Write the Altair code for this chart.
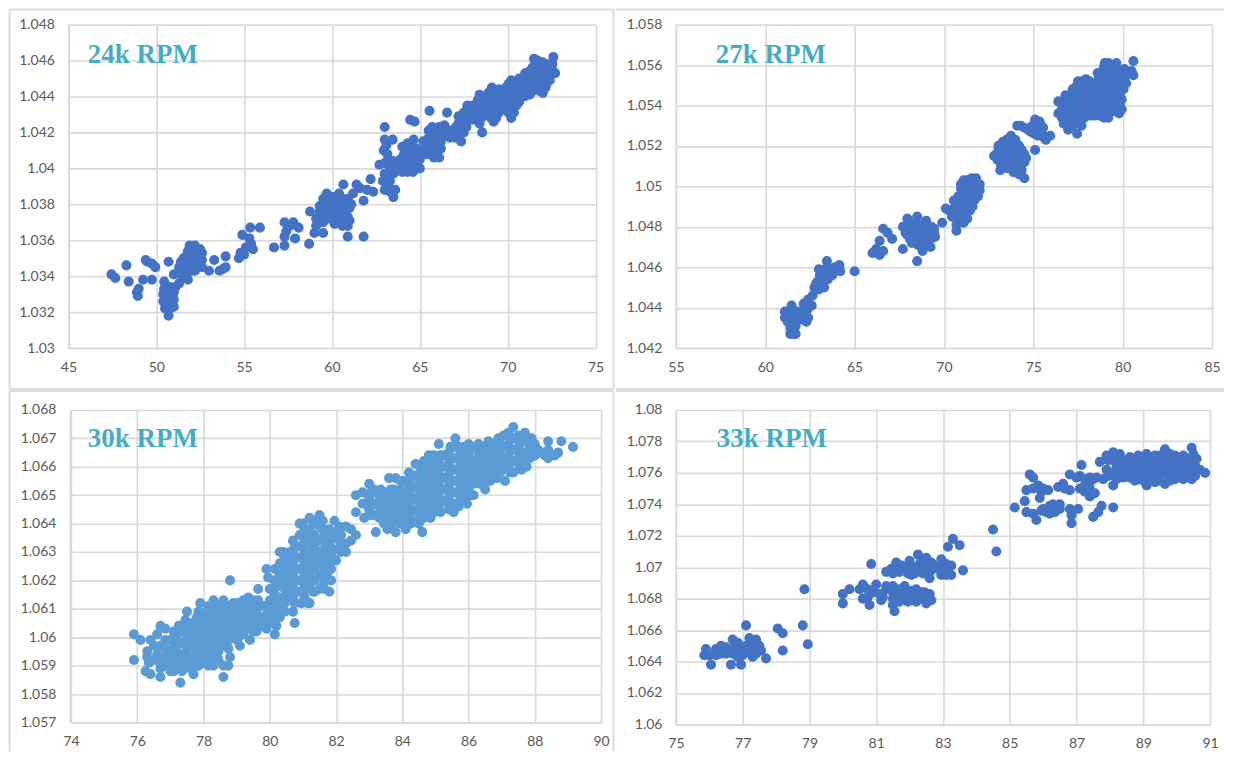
import altair as alt

pts_24 = [(47.45,1.0341),(47.67,1.0339),(48.3,1.0346),(48.43,1.0337),(48.9,1.0331),(48.95,1.0329),(49.0,1.0333),(49.25,1.0338),(49.4,1.0349),(49.5,1.0348),(49.75,1.0347),(49.95,1.0345),(49.75,1.0338),
(50.7,1.0318),(50.5,1.0322),(50.8,1.0322),(51.0,1.0323),(50.4,1.0326),(50.7,1.0326),(51.0,1.0327),(50.4,1.0330),(50.7,1.0330),(51.0,1.0331),(50.45,1.0333),(50.8,1.0334),(51.1,1.0334),(50.45,1.0337),(50.7,1.0348),
(51.3,1.0336),(51.5,1.0339),(51.0,1.0341),(51.4,1.0342),(51.8,1.0338),(51.7,1.0341),(51.3,1.0345),(51.6,1.0345),(52.0,1.0343),(52.2,1.0343),(51.4,1.0348),(51.7,1.0348),(52.0,1.0347),(52.3,1.0346),(52.6,1.0345),(51.7,1.0351),(52.0,1.0351),(52.3,1.0350),(52.6,1.0349),(51.8,1.0354),(52.1,1.0354),(52.4,1.0354),(52.6,1.0353),(51.9,1.0357),(52.2,1.0357),(52.5,1.0355),
(53.0,1.0343),(53.3,1.0349),(53.6,1.0343),(53.8,1.0344),(53.95,1.0345),(53.95,1.0351),
(54.7,1.0350),(54.8,1.0353),(55.0,1.0352),(55.1,1.0356),(55.4,1.0358),(55.5,1.0355),(54.9,1.0363),(55.3,1.0361),(55.35,1.0367),(55.9,1.0367),
(56.7,1.0356),(57.3,1.0357),(57.3,1.0362),(57.4,1.0365),(57.3,1.0370),(57.6,1.0368),(57.8,1.0370),(58.1,1.0367),(57.9,1.0361),(58.7,1.0358),(58.75,1.0376),(59.0,1.0364),(59.1,1.0372),(59.1,1.0368),(59.3,1.0376),(59.3,1.0379),(59.5,1.0383),(59.7,1.0386),(59.5,1.0364),(59.5,1.0370),(59.6,1.0373),(59.8,1.0376),(59.9,1.0380),(60.1,1.0375),(60.3,1.0370),(60.3,1.0377),(60.3,1.0383),(60.4,1.0386),(60.6,1.0368),(60.6,1.0373),(60.6,1.0378),(60.6,1.0383),(60.65,1.0391),(60.9,1.0362),(60.9,1.0368),(60.9,1.0373),(61.0,1.0378),(60.9,1.0383),(61.1,1.0380),(61.2,1.0386),(61.4,1.0391),(61.6,1.0389),(61.8,1.0382),(61.8,1.0362),(62.0,1.0388),(62.2,1.0394),(62.35,1.0387),
(62.7,1.0402),(62.9,1.0393),(63.0,1.0388),(63.2,1.0390),(63.5,1.0384),(63.6,1.0388),(63.3,1.0393),(63.0,1.0397),(63.3,1.0400),(63.0,1.0403),(63.2,1.0405),(62.95,1.0410),(63.0,1.0416),(63.45,1.0416),(63.0,1.0423),(63.5,1.0404),(63.8,1.0400),(64.0,1.0398),(64.3,1.0398),(64.6,1.0398),(64.0,1.0403),(64.3,1.0403),(64.6,1.0403),(65.0,1.0400),(64.1,1.0408),(64.4,1.0407),(64.7,1.0407),(65.0,1.0405),(64.0,1.0412),(64.5,1.0411),(64.8,1.0411),(64.65,1.0416),(64.45,1.0427),(64.7,1.0426),
(65.3,1.0411),(65.2,1.0415),(65.5,1.0408),(65.8,1.0406),(66.1,1.0406),(65.5,1.0413),(65.8,1.0411),(66.2,1.0411),(65.5,1.0417),(65.9,1.0416),(66.2,1.0415),(65.5,1.0421),(65.8,1.0421),(66.1,1.0420),(66.4,1.0419),(66.1,1.0423),(66.4,1.0424),(65.55,1.0432),(66.55,1.0431),(66.7,1.0417),
(67.0,1.0417),(67.35,1.0415),(67.2,1.0420),(67.5,1.0420),(67.2,1.0425),(67.5,1.0425),(67.2,1.0429),(67.8,1.0428),(67.5,1.0431),(67.7,1.0435),(68.1,1.0431),(68.0,1.0435),(68.4,1.0425),(68.55,1.0420),(68.5,1.0428),(68.8,1.0430),(68.3,1.0434),(68.6,1.0434),(68.9,1.0434),(68.3,1.0438),(68.6,1.0438),(68.9,1.0438),(68.4,1.0441),(68.9,1.0442),(69.1,1.0445),(69.2,1.0426),(69.2,1.0431),(69.5,1.0431),(69.3,1.0436),(69.6,1.0435),(69.3,1.0440),(69.6,1.0440),(69.9,1.0436),(69.9,1.0441),(69.5,1.0444),(69.9,1.0445),(70.2,1.0428),(70.2,1.0433),(70.2,1.0437),(70.2,1.0442),(70.2,1.0446),(70.2,1.0449),(70.5,1.0435),(70.5,1.0440),(70.5,1.0444),(70.5,1.0448),(70.8,1.0442),(70.8,1.0446),(70.8,1.0450),(71.0,1.0453),(71.1,1.0444),(71.1,1.0448),(71.1,1.0452),(71.4,1.0443),(71.4,1.0447),(71.4,1.0451),(71.4,1.0456),(71.5,1.0461),(71.7,1.0444),(71.7,1.0448),(71.7,1.0452),(71.7,1.0457),(71.7,1.0460),(72.0,1.0442),(72.0,1.0446),(72.0,1.0450),(72.0,1.0454),(72.0,1.0459),(72.2,1.0447),(72.3,1.0451),(72.3,1.0455),(72.2,1.0458),(72.6,1.0462),(72.55,1.0458),(72.7,1.0453),(72.5,1.0456),(72.4,1.0449)]
fill_24 = [(59.6,1.0378),(59.9,1.0372),(60.0,1.0384),(60.45,1.0380),(60.45,1.0372),(60.75,1.0376),(60.75,1.0370),(60.75,1.0381),(61.0,1.0371),(60.15,1.0369),
(63.15,1.0395),(63.3,1.0387),(63.15,1.0408),(63.1,1.0413),(63.5,1.0397),(63.7,1.0403),(63.9,1.0405),(64.15,1.0400),(64.45,1.0400),(64.8,1.0400),(64.2,1.0405),(64.55,1.0405),(64.85,1.0405),(64.2,1.0410),(64.3,1.0414),(64.6,1.0409),(65.0,1.0409),(65.35,1.0408),
(65.65,1.0410),(65.95,1.0409),(65.35,1.0413),(65.65,1.0415),(66.0,1.0413),(65.65,1.0419),(65.95,1.0419),(66.25,1.0418),(65.7,1.0423),(66.3,1.0422),(66.75,1.0421),(66.95,1.0421),(67.05,1.0423),(67.35,1.0423),(67.35,1.0428),(67.65,1.0423),(67.65,1.0427),(67.95,1.0427),(67.9,1.0432),(68.25,1.0428),(68.25,1.0431),(68.55,1.0431),(68.75,1.0436),(68.45,1.0436),(69.05,1.0428),(69.05,1.0432),(69.05,1.0436),(69.05,1.0440),(69.35,1.0428),(69.35,1.0433),(69.45,1.0438),(69.45,1.0442),(69.75,1.0438),(69.75,1.0443),(69.75,1.0433),(70.05,1.0431),(70.05,1.0435),(70.05,1.0439),(70.05,1.0443),(70.05,1.0447),(70.35,1.0431),(70.35,1.0435),(70.35,1.0439),(70.35,1.0443),(70.35,1.0447),(70.65,1.0437),(70.65,1.0442),(70.65,1.0446),(70.65,1.0450),(70.95,1.0440),(70.95,1.0444),(70.95,1.0448),(70.95,1.0451),(71.25,1.0441),(71.25,1.0445),(71.25,1.0449),(71.25,1.0454),(71.55,1.0445),(71.55,1.0449),(71.55,1.0454),(71.55,1.0458),(71.85,1.0443),(71.85,1.0447),(71.85,1.0451),(71.85,1.0455),(71.85,1.0459),(72.15,1.0445),(72.15,1.0449),(72.15,1.0453),(72.4,1.0453),(72.4,1.0457),
(51.55,1.0350),(51.85,1.0346),(52.15,1.0349),(52.45,1.0348),(50.6,1.0328),(50.85,1.0329),(50.85,1.0325)]

pts_27 = [(61.1,1.0438),(61.1,1.0435),(61.47,1.0441),(61.4,1.0437),(61.4,1.0433),(61.4,1.0430),(61.4,1.0427),(61.7,1.0427),(61.7,1.0431),(61.75,1.0435),(61.85,1.0438),(62.3,1.0433),(62.4,1.0435),(62.1,1.0438),(62.15,1.0442),(62.6,1.0441),(62.4,1.0444),(62.65,1.0446),(62.75,1.0450),(63.0,1.0449),(63.2,1.0452),(63.05,1.0456),(63.0,1.0459),(63.5,1.0454),(63.4,1.0457),(63.45,1.0463),(63.7,1.0459),(64.2,1.0458),(64.15,1.0461),(65.0,1.0458),
(66.0,1.0467),(66.2,1.0469),(66.4,1.0466),(66.6,1.0468),(66.4,1.0473),(66.6,1.0479),(66.85,1.0477),(67.1,1.0474),(67.7,1.0469),
(67.95,1.0484),(68.5,1.0485),(69.0,1.0483),(67.7,1.0480),(68.05,1.0480),(67.85,1.0477),(68.1,1.0474),(68.4,1.0480),(68.4,1.0477),(68.4,1.0473),(68.7,1.0479),(68.7,1.0474),(68.75,1.0470),(68.8,1.0468),(69.05,1.0480),(69.05,1.0476),(69.15,1.0472),(69.25,1.0470),(69.45,1.0479),(69.5,1.0475),(68.5,1.0463),
(69.9,1.0482),(70.1,1.0489),(70.45,1.0485),(70.7,1.0478),(70.7,1.0481),(70.55,1.0489),(70.8,1.0495),(70.8,1.0487),(71.1,1.0482),(71.2,1.0486),(71.0,1.0491),(71.1,1.0497),(71.1,1.0503),(71.45,1.0488),(71.45,1.0493),(71.55,1.0499),(71.55,1.0504),(71.9,1.0495),(72.0,1.0498),(72.0,1.0501),(71.8,1.0504),
(72.8,1.0515),(73.05,1.0520),(73.15,1.0508),(73.3,1.0522),(73.3,1.0516),(73.4,1.0511),(73.75,1.0525),(73.75,1.0519),(73.75,1.0514),(73.9,1.0507),(74.2,1.0520),(74.2,1.0515),(74.2,1.0510),(74.2,1.0506),(74.5,1.0504),(74.5,1.0512),(74.5,1.0516),
(75.1,1.0518),(74.1,1.0530),(74.5,1.0529),(74.85,1.0527),(75.1,1.0533),(75.15,1.0529),(75.35,1.0532),(75.55,1.0529),(75.25,1.0525),(75.7,1.0523),(75.95,1.0525),
(76.4,1.0542),(76.4,1.0536),(76.6,1.0534),(76.8,1.0545),(76.95,1.0539),(76.95,1.0528),(77.2,1.0533),(77.45,1.0526),(77.5,1.0552),(77.5,1.0547),(77.5,1.0542),(77.5,1.0537),(77.5,1.0532),(77.95,1.0553),(77.95,1.0548),(77.95,1.0543),(77.95,1.0538),(77.85,1.0534),(78.4,1.0550),(78.4,1.0545),(78.4,1.0540),(78.4,1.0535),(78.6,1.0556),(78.95,1.0559),(79.2,1.0561),(78.95,1.0553),(78.95,1.0548),(78.95,1.0543),(78.95,1.0538),(78.95,1.0534),(79.4,1.0557),(79.65,1.0561),(79.4,1.0552),(79.4,1.0547),(79.4,1.0542),(79.4,1.0537),(79.95,1.0557),(79.95,1.0552),(79.95,1.0548),(79.95,1.0543),(79.95,1.0538),(80.5,1.0557),(80.6,1.0555),(80.6,1.0562)]
fill_27 = [(61.25,1.0436),(61.25,1.0433),(61.55,1.0439),(61.55,1.0435),(61.55,1.0432),(61.55,1.0429),(61.55,1.0427),(61.9,1.0434),(62.1,1.0436),(62.15,1.0434),(62.35,1.0439),(62.35,1.0441),(62.85,1.0452),(62.95,1.0453),(63.25,1.0455),(63.25,1.0458),(63.3,1.0450),(63.45,1.0460),(63.75,1.0456),(63.9,1.0460),
(68.2,1.0478),(68.2,1.0476),(68.2,1.0472),(68.55,1.0478),(68.55,1.0475),(68.55,1.0471),(68.85,1.0477),(68.9,1.0474),(68.95,1.0471),(69.2,1.0478),(69.25,1.0474),(69.45,1.0477),(68.9,1.0480),(68.0,1.0478),(67.95,1.0476),(69.3,1.0480),(68.55,1.0481),(68.3,1.0482),
(70.3,1.0488),(70.45,1.0488),(70.6,1.0485),(70.65,1.0492),(70.95,1.0484),(70.95,1.0488),(70.95,1.0494),(70.95,1.0499),(70.95,1.0501),(71.2,1.0490),(71.3,1.0495),(71.3,1.0499),(71.3,1.0503),(71.6,1.0490),(71.7,1.0493),(71.75,1.0497),(71.75,1.0501),(71.3,1.0484),(70.55,1.0493),(70.8,1.0491),
(73.0,1.0517),(73.0,1.0513),(73.2,1.0518),(73.2,1.0510),(73.5,1.0523),(73.5,1.0519),(73.5,1.0515),(73.55,1.0509),(74.0,1.0523),(74.0,1.0517),(74.0,1.0512),(74.0,1.0509),(73.6,1.0512),(74.35,1.0518),(74.35,1.0513),(74.35,1.0508),(73.25,1.0513),(73.95,1.0520),(74.6,1.0514),
(74.3,1.0530),(74.7,1.0528),(74.95,1.0530),(75.3,1.0528),(75.45,1.0530),(75.5,1.0526),(75.05,1.0526),(75.6,1.0524),
(76.6,1.0541),(76.6,1.0538),(76.7,1.0536),(76.7,1.0531),(76.75,1.0542),(76.95,1.0543),(76.95,1.0534),(77.2,1.0548),(77.2,1.0544),(77.2,1.0540),(77.2,1.0536),(77.2,1.0530),(77.7,1.0550),(77.7,1.0545),(77.7,1.0540),(77.7,1.0535),(77.7,1.0530),(78.15,1.0552),(78.15,1.0547),(78.15,1.0542),(78.15,1.0537),(78.65,1.0553),(78.65,1.0548),(78.65,1.0543),(78.65,1.0538),(78.7,1.0535),(78.2,1.0535),(79.2,1.0557),(79.2,1.0553),(79.2,1.0549),(79.2,1.0545),(79.2,1.0540),(79.2,1.0536),(79.2,1.0534),(79.65,1.0558),(79.65,1.0554),(79.65,1.0549),(79.65,1.0544),(79.65,1.0539),(79.65,1.0537),(80.2,1.0555),(80.1,1.0558),(78.95,1.0556),(79.0,1.0561),(79.45,1.0560),(78.6,1.0551),(77.95,1.0551),(77.7,1.0552),(80.2,1.0551),
(77.35,1.0540),(77.35,1.0535),(77.35,1.0545),(77.35,1.0549),(77.8,1.0540),(77.8,1.0545),(77.8,1.0536),(78.25,1.0540),(78.25,1.0544),(78.25,1.0549),(78.25,1.0538),(78.8,1.0541),(78.8,1.0546),(78.8,1.0551),(79.1,1.0538),(79.1,1.0542),(79.1,1.0547),(79.1,1.0551),(79.1,1.0555),(79.55,1.0541),(79.55,1.0546),(79.55,1.0551),(79.55,1.0556),(79.85,1.0541),(79.85,1.0546),(79.85,1.0550),(79.85,1.0555),(80.05,1.0548),(80.05,1.0553),(76.85,1.0536),(76.85,1.0532),(78.55,1.0540),(78.55,1.0546),(78.55,1.0537),(78.0,1.0545),(78.0,1.0541),(79.8,1.0536)]

pts_30 = [(75.9,1.0601),(75.9,1.0592),(76.1,1.0599),(76.3,1.0595),(76.3,1.0593),(76.35,1.0591),(76.25,1.0588),(76.4,1.0587),(76.7,1.0586),(76.4,1.0599),(76.7,1.0604),(76.6,1.0601),(76.7,1.0597),(76.6,1.0594),(76.7,1.0591),(76.7,1.0589),
(77.0,1.0599),(77.0,1.0595),(77.0,1.0592),(77.0,1.0588),(77.25,1.0604),(77.2,1.0601),(77.2,1.0597),(77.2,1.0593),(77.2,1.0589),(77.3,1.0584),
(77.5,1.0609),(77.5,1.0603),(77.5,1.0600),(77.5,1.0596),(77.5,1.0592),(77.5,1.0590),(77.7,1.0587),(77.7,1.0602),(77.75,1.0598),(77.75,1.0594),(77.75,1.0590),
(77.9,1.0612),(78.0,1.0607),(78.0,1.0603),(78.0,1.0599),(78.0,1.0595),(78.0,1.0591),(78.3,1.0613),(78.3,1.0609),(78.3,1.0605),(78.3,1.0601),(78.3,1.0597),(78.3,1.0593),(78.3,1.0590),(78.6,1.0613),(78.6,1.0609),(78.6,1.0605),(78.6,1.0601),(78.6,1.0597),(78.6,1.0590),(78.6,1.0586),(78.8,1.0620),(78.9,1.0612),(78.9,1.0608),(78.9,1.0604),(78.9,1.0600),(78.8,1.0593),
(79.2,1.0613),(79.2,1.0609),(79.2,1.0605),(79.2,1.0601),(79.1,1.0597),(79.4,1.0599),(79.5,1.0613),(79.5,1.0609),(79.5,1.0605),(79.5,1.0602),(79.65,1.0617),(79.6,1.0602),
(79.8,1.0611),(79.8,1.0607),(80.0,1.0605),(80.0,1.0613),(80.0,1.0609),(80.15,1.0601),(80.3,1.0607),(80.3,1.0611),(80.3,1.0614),(80.7,1.0609),(80.75,1.0605),
(79.9,1.0624),(79.95,1.0621),(80.0,1.0617),(80.3,1.0630),(80.3,1.0626),(80.3,1.0622),(80.3,1.0618),(80.6,1.0630),(80.6,1.0626),(80.6,1.0622),(80.6,1.0618),(80.6,1.0614),(80.9,1.0640),(80.9,1.0636),(80.9,1.0632),(80.9,1.0628),(80.9,1.0624),(80.9,1.0620),(80.9,1.0616),(81.2,1.0642),(81.2,1.0638),(81.2,1.0634),(81.2,1.0630),(81.2,1.0626),(81.2,1.0622),(81.2,1.0618),(81.15,1.0612),(81.2,1.0612),(81.5,1.0643),(81.5,1.0639),(81.5,1.0634),(81.5,1.0630),(81.5,1.0626),(81.5,1.0622),(81.5,1.0617),(81.8,1.0638),(81.8,1.0633),(81.8,1.0627),(81.8,1.0616),(81.95,1.0641),(82.0,1.0637),(82.0,1.0635),(82.3,1.0639),(82.3,1.0633),(82.3,1.0630),(82.6,1.0636),(82.0,1.0627),
(82.6,1.0650),(82.6,1.0644),(82.8,1.0647),(83.0,1.0654),(83.0,1.0649),(83.0,1.0645),(83.2,1.0637),(83.3,1.0650),(83.3,1.0646),(83.3,1.0642),(83.55,1.0638),(83.6,1.0656),(83.6,1.0650),(83.6,1.0646),(83.6,1.0642),(83.8,1.0637),(83.8,1.0656),(83.9,1.0650),(83.9,1.0646),(83.9,1.0642),
(84.1,1.0638),(84.2,1.0658),(84.2,1.0654),(84.2,1.0650),(84.2,1.0646),(84.2,1.0642),(84.4,1.0661),(84.5,1.0656),(84.5,1.0652),(84.5,1.0648),(84.5,1.0644),(84.5,1.0640),(84.6,1.0637),(84.8,1.0664),(84.8,1.0660),(84.8,1.0656),(84.8,1.0652),(84.8,1.0648),(84.8,1.0644),(85.1,1.0668),(85.1,1.0662),(85.1,1.0658),(85.1,1.0654),(85.1,1.0650),(85.1,1.0646),(85.4,1.0665),(85.4,1.0661),(85.4,1.0657),(85.4,1.0653),(85.4,1.0649),(85.4,1.0645),(85.55,1.0644),(85.6,1.0670),(85.7,1.0667),(85.7,1.0663),(85.7,1.0659),(85.7,1.0655),(85.7,1.0651),(85.7,1.0646),(85.95,1.0647),(86.0,1.0668),(86.0,1.0664),(86.0,1.0660),(86.0,1.0656),(86.0,1.0652),(86.3,1.0668),(86.3,1.0664),(86.3,1.0660),(86.3,1.0656),(86.5,1.0652),(86.6,1.0669),(86.6,1.0665),(86.6,1.0661),(86.6,1.0657),(86.9,1.0670),(86.9,1.0666),(86.9,1.0662),(86.85,1.0656),(87.1,1.0655),(87.2,1.0672),(87.2,1.0668),(87.2,1.0664),(87.2,1.0660),(87.35,1.0674),(87.5,1.0671),(87.5,1.0667),(87.5,1.0663),(87.35,1.0658),(87.7,1.0672),(87.8,1.0669),(87.8,1.0665),(87.75,1.0660),(87.6,1.0659),(88.0,1.0668),(88.0,1.0664),(88.2,1.0665),(88.4,1.0669),(88.4,1.0666),(88.4,1.0663),(88.7,1.0665),(88.8,1.0669),(89.15,1.0667),(88.6,1.0664)]
fill_30 = [(76.85,1.0603),(76.85,1.0599),(76.85,1.0596),(76.85,1.0593),(76.85,1.0590),(76.5,1.0597),(76.5,1.0592),
(77.1,1.0602),(77.1,1.0598),(77.1,1.0594),(77.1,1.0591),(77.1,1.0588),
(77.35,1.0602),(77.35,1.0598),(77.35,1.0594),(77.35,1.0591),(77.35,1.0588),
(77.65,1.0605),(77.65,1.0600),(77.6,1.0597),(77.6,1.0593),(77.6,1.0589),
(77.85,1.0609),(77.85,1.0605),(77.85,1.0601),(77.85,1.0597),(77.85,1.0593),(77.85,1.0590),
(78.15,1.0611),(78.15,1.0607),(78.15,1.0603),(78.15,1.0599),(78.15,1.0595),(78.15,1.0592),(78.15,1.0590),
(78.45,1.0611),(78.45,1.0607),(78.45,1.0603),(78.45,1.0599),(78.45,1.0595),(78.45,1.0592),
(78.75,1.0611),(78.75,1.0607),(78.75,1.0603),(78.75,1.0599),(78.75,1.0596),(78.75,1.0590),
(79.05,1.0610),(79.05,1.0607),(79.05,1.0603),(79.05,1.0600),(79.05,1.0612),
(79.35,1.0611),(79.35,1.0607),(79.35,1.0603),(79.35,1.0614),
(79.65,1.0611),(79.65,1.0607),(79.65,1.0613),(79.8,1.0604),(79.95,1.0607),(80.15,1.0609),(80.15,1.0606),(80.15,1.0612),(80.45,1.0612),(80.45,1.0609),(80.5,1.0615),(80.15,1.0615),
(80.15,1.0620),(80.15,1.0624),(80.1,1.0617),(80.45,1.0628),(80.45,1.0624),(80.45,1.0620),(80.45,1.0617),(80.75,1.0632),(80.75,1.0628),(80.75,1.0624),(80.75,1.0620),(80.75,1.0616),(80.75,1.0612),(80.95,1.0612),(81.05,1.0638),(81.05,1.0634),(81.05,1.0630),(81.05,1.0626),(81.05,1.0622),(81.05,1.0618),(81.05,1.0614),(81.35,1.0640),(81.35,1.0636),(81.35,1.0632),(81.35,1.0628),(81.35,1.0624),(81.35,1.0620),(81.35,1.0616),(81.65,1.0636),(81.65,1.0631),(81.65,1.0628),(81.65,1.0624),(81.65,1.0620),(81.65,1.0617),(81.75,1.0623),(81.9,1.0631),(82.1,1.0639),(82.1,1.0634),(82.15,1.0632),
(82.8,1.0651),(82.85,1.0642),(83.15,1.0652),(83.15,1.0647),(83.15,1.0643),(83.45,1.0651),(83.45,1.0648),(83.45,1.0644),(83.45,1.0640),(83.75,1.0652),(83.75,1.0648),(83.75,1.0644),(83.7,1.0640),(84.05,1.0655),(84.05,1.0651),(84.05,1.0648),(84.05,1.0644),(84.05,1.0640),(84.35,1.0657),(84.35,1.0653),(84.35,1.0649),(84.35,1.0645),(84.35,1.0641),(84.65,1.0662),(84.65,1.0658),(84.65,1.0654),(84.65,1.0650),(84.65,1.0646),(84.65,1.0642),(84.95,1.0664),(84.95,1.0660),(84.95,1.0656),(84.95,1.0652),(84.95,1.0648),(84.95,1.0644),(85.25,1.0664),(85.25,1.0660),(85.25,1.0656),(85.25,1.0652),(85.25,1.0648),(85.55,1.0667),(85.55,1.0663),(85.55,1.0659),(85.55,1.0655),(85.55,1.0651),(85.55,1.0647),(85.85,1.0667),(85.85,1.0662),(85.85,1.0658),(85.85,1.0654),(85.85,1.0650),(86.15,1.0667),(86.15,1.0662),(86.15,1.0658),(86.15,1.0654),(86.15,1.0650),(86.45,1.0667),(86.45,1.0663),(86.45,1.0659),(86.45,1.0655),(86.75,1.0668),(86.75,1.0664),(86.75,1.0660),(86.75,1.0658),(87.05,1.0671),(87.05,1.0667),(87.05,1.0663),(87.05,1.0660),(87.35,1.0670),(87.35,1.0666),(87.35,1.0662),(87.65,1.0669),(87.65,1.0665),(87.65,1.0662),(87.9,1.0666),(87.9,1.0670),(88.1,1.0666),(88.3,1.0664)]
fill2_30 = [(77.15,1.0590),(77.15,1.0596),(77.15,1.0600),
(77.45,1.0594),(77.45,1.0598),(77.45,1.0602),(77.45,1.0606),
(77.8,1.0592),(77.8,1.0596),(77.8,1.0599),(77.8,1.0603),(77.8,1.0607),
(78.1,1.0593),(78.1,1.0597),(78.1,1.0601),(78.1,1.0605),(78.1,1.0609),
(78.4,1.0594),(78.4,1.0598),(78.4,1.0602),(78.4,1.0606),(78.4,1.0610),
(78.7,1.0598),(78.7,1.0602),(78.7,1.0606),(78.7,1.0610),
(79.0,1.0599),(79.0,1.0602),(79.0,1.0606),(79.0,1.0610),
(79.3,1.0604),(79.3,1.0608),(79.3,1.0612),
(79.6,1.0604),(79.6,1.0609),(79.6,1.0612),
(79.9,1.0603),(79.9,1.0608),(79.9,1.0611),
(80.2,1.0604),(80.2,1.0608),(80.2,1.0610),(80.2,1.0613),
(80.4,1.0619),(80.4,1.0622),(80.4,1.0626),(80.4,1.0630),
(80.7,1.0614),(80.7,1.0618),(80.7,1.0622),(80.7,1.0626),(80.7,1.0630),(80.7,1.0634),
(81.0,1.0616),(81.0,1.0620),(81.0,1.0624),(81.0,1.0628),(81.0,1.0632),(81.0,1.0636),(81.0,1.0640),
(81.3,1.0616),(81.3,1.0620),(81.3,1.0624),(81.3,1.0628),(81.3,1.0632),(81.3,1.0636),(81.3,1.0641),
(81.6,1.0618),(81.6,1.0622),(81.6,1.0626),(81.6,1.0630),(81.6,1.0634),(81.6,1.0638),(81.6,1.0641),
(81.85,1.0620),(81.85,1.0624),(81.85,1.0629),(81.85,1.0636),
(82.15,1.0630),(82.15,1.0636),(82.45,1.0634),(82.45,1.0638),
(83.05,1.0643),(83.05,1.0647),(83.05,1.0651),
(83.35,1.0644),(83.35,1.0648),(83.35,1.0652),
(83.65,1.0640),(83.65,1.0644),(83.65,1.0648),(83.65,1.0652),
(83.95,1.0640),(83.95,1.0644),(83.95,1.0648),(83.95,1.0652),(83.95,1.0655),
(84.25,1.0640),(84.25,1.0644),(84.25,1.0648),(84.25,1.0652),(84.25,1.0656),
(84.55,1.0642),(84.55,1.0646),(84.55,1.0650),(84.55,1.0654),(84.55,1.0658),(84.55,1.0660),
(84.85,1.0642),(84.85,1.0646),(84.85,1.0650),(84.85,1.0654),(84.85,1.0658),(84.85,1.0662),
(85.15,1.0644),(85.15,1.0648),(85.15,1.0652),(85.15,1.0656),(85.15,1.0660),(85.15,1.0664),
(85.45,1.0647),(85.45,1.0651),(85.45,1.0655),(85.45,1.0659),(85.45,1.0663),(85.45,1.0667),
(85.75,1.0649),(85.75,1.0653),(85.75,1.0657),(85.75,1.0661),(85.75,1.0665),
(86.05,1.0650),(86.05,1.0654),(86.05,1.0658),(86.05,1.0662),(86.05,1.0666),
(86.35,1.0654),(86.35,1.0658),(86.35,1.0662),(86.35,1.0666),
(86.65,1.0655),(86.65,1.0659),(86.65,1.0663),(86.65,1.0667),
(86.95,1.0658),(86.95,1.0660),(86.95,1.0664),(86.95,1.0668),
(87.25,1.0658),(87.25,1.0662),(87.25,1.0666),(87.25,1.0670),
(87.55,1.0660),(87.55,1.0664),(87.55,1.0668),
(87.85,1.0663),(87.85,1.0667)]

pts_33 = [(75.85,1.0644),(75.9,1.0648),(76.0,1.0644),(76.05,1.0638),(76.3,1.0647),(76.5,1.0649),(76.5,1.0645),(76.65,1.0638),(76.7,1.0654),(76.75,1.0649),(76.7,1.0645),(76.95,1.0638),(77.0,1.0648),(77.0,1.0644),(77.1,1.0663),(77.2,1.0655),(77.2,1.0650),(77.2,1.0646),(77.4,1.0654),(77.4,1.0649),(77.4,1.0645),(77.55,1.0647),(77.7,1.0642),(78.05,1.0661),(78.2,1.0658),(78.2,1.0647),(78.8,1.0663),(78.85,1.0686),(78.95,1.0651),
(80.0,1.0683),(80.0,1.0677),(80.2,1.0686),(80.5,1.0686),(80.6,1.0689),(80.6,1.0680),(80.85,1.0702),(80.8,1.0676),(81.0,1.0689),(80.9,1.0684),(81.1,1.0683),(81.15,1.0679),(81.3,1.0686),(81.5,1.0688),(81.5,1.0684),(81.5,1.0680),(81.5,1.0676),(81.55,1.0672),(81.75,1.0682),(81.85,1.0688),(81.9,1.0683),(81.95,1.0678),(82.2,1.0686),(82.2,1.0682),(82.2,1.0678),(82.45,1.0684),(82.5,1.0680),(82.5,1.0677),(82.65,1.0679),
(81.3,1.0697),(81.5,1.0696),(81.6,1.0703),(81.7,1.0697),(81.9,1.0700),(82.0,1.0704),(82.05,1.0695),(82.25,1.0708),(82.3,1.0702),(82.3,1.0698),(82.5,1.0706),(82.5,1.0699),(82.6,1.0693),(82.75,1.0701),(82.95,1.0705),(83.0,1.0700),(82.95,1.0695),(83.15,1.0698),(83.25,1.0701),(83.25,1.0695),(83.6,1.0698),(83.15,1.0713),(83.3,1.0718),(83.5,1.0714),(84.5,1.0724),(84.6,1.0710),
(85.15,1.0738),(85.45,1.0742),(85.5,1.0749),(85.5,1.0735),(85.6,1.0759),(85.7,1.0757),(85.7,1.0750),(85.7,1.0734),(85.8,1.0730),(85.85,1.0752),(85.95,1.0748),(85.95,1.0736),(86.15,1.0749),(86.2,1.0739),(86.2,1.0734),(86.45,1.0751),(86.5,1.0740),(86.5,1.0737),(86.6,1.0753),(86.8,1.0749),(86.8,1.0759),(86.8,1.0737),(86.85,1.0733),(86.85,1.0728),(87.1,1.0750),(87.15,1.0765),(87.1,1.0758),(87.05,1.0737),(87.4,1.0757),(87.4,1.0750),(87.4,1.0745),(87.55,1.0747),(87.5,1.0732),(87.65,1.0735),(87.75,1.0739),(88.1,1.0738),(87.7,1.0767),(87.9,1.0771),(88.1,1.0773),(87.8,1.0756),(88.1,1.0752),(88.1,1.0768),(88.1,1.0760),(88.3,1.0772),(88.35,1.0766),(88.35,1.0761),(88.4,1.0757),(88.6,1.0770),(88.6,1.0764),(88.6,1.0757),(88.85,1.0771),(88.85,1.0766),(88.85,1.0760),(88.85,1.0756),(89.1,1.0772),(89.1,1.0767),(89.1,1.0761),(89.1,1.0752),(89.35,1.0771),(89.35,1.0765),(89.35,1.0760),(89.35,1.0754),(89.65,1.0775),(89.65,1.0770),(89.65,1.0765),(89.65,1.0760),(89.65,1.0753),(89.95,1.0771),(89.95,1.0765),(89.95,1.0760),(89.95,1.0756),(90.2,1.0771),(90.2,1.0766),(90.2,1.0761),(90.2,1.0756),(90.45,1.0776),(90.5,1.0772),(90.45,1.0767),(90.45,1.0760),(90.45,1.0756),(90.7,1.0762),(90.85,1.0760)]
fill_33 = [(76.2,1.0648),(76.2,1.0644),(76.35,1.0650),(76.35,1.0645),(76.6,1.0647),(76.85,1.0652),(76.85,1.0647),(76.85,1.0643),(77.1,1.0650),(77.1,1.0646),(77.3,1.0652),(77.3,1.0648),(77.3,1.0643),(77.5,1.0650),(80.75,1.0686),(80.75,1.0681),(81.2,1.0681),(81.3,1.0688),(81.7,1.0686),(81.7,1.0678),(82.05,1.0681),(82.05,1.0685),(82.35,1.0684),(82.35,1.0680),(82.6,1.0683),
(81.45,1.0699),(81.75,1.0701),(81.95,1.0696),(82.15,1.0700),(82.15,1.0696),(82.4,1.0704),(82.4,1.0700),(82.4,1.0696),(82.65,1.0703),(82.65,1.0698),(82.85,1.0699),(83.1,1.0702),(83.1,1.0695),(83.0,1.0697),
(85.9,1.0744),(86.0,1.0737),(86.1,1.0735),(86.3,1.0740),(86.35,1.0737),(86.0,1.0750),(86.35,1.0735),(86.65,1.0750),(87.0,1.0757),(87.25,1.0756),(87.25,1.0752),(87.25,1.0748),(87.5,1.0756),(87.4,1.0754),(87.6,1.0757),(87.95,1.0758),(87.95,1.0768),(87.9,1.0762),(88.2,1.0764),(88.2,1.0756),(88.2,1.0770),(88.45,1.0768),(88.45,1.0763),(88.5,1.0759),(88.7,1.0767),(88.7,1.0761),(88.75,1.0755),(89.0,1.0769),(89.0,1.0764),(89.0,1.0758),(89.0,1.0755),(89.25,1.0769),(89.25,1.0763),(89.25,1.0757),(89.5,1.0771),(89.5,1.0767),(89.5,1.0763),(89.5,1.0758),(89.5,1.0755),(89.8,1.0772),(89.8,1.0767),(89.8,1.0762),(89.8,1.0757),(89.8,1.0755),(90.05,1.0769),(90.05,1.0763),(90.05,1.0758),(90.3,1.0769),(90.3,1.0764),(90.3,1.0758),(90.55,1.0765),(90.55,1.0758),(90.6,1.0769)]

x_ticks_24 = [45, 50, 55, 60, 65, 70, 75]
y_ticks_24 = [1.03, 1.032, 1.034, 1.036, 1.038, 1.04, 1.042, 1.044, 1.046, 1.048]
x_ticks_27 = [55, 60, 65, 70, 75, 80, 85]
y_ticks_27 = [1.042, 1.044, 1.046, 1.048, 1.05, 1.052, 1.054, 1.056, 1.058]
x_ticks_30 = [74, 76, 78, 80, 82, 84, 86, 88, 90]
y_ticks_30 = [1.057, 1.058, 1.059, 1.06, 1.061, 1.062, 1.063, 1.064, 1.065, 1.066, 1.067, 1.068]
x_ticks_33 = [75, 77, 79, 81, 83, 85, 87, 89, 91]
y_ticks_33 = [1.06, 1.062, 1.064, 1.066, 1.068, 1.07, 1.072, 1.074, 1.076, 1.078, 1.08]

GRID = "#D9D9D9"
FRAME = "#DCDCDC"
ONE = alt.Data(values=[{"a": 1}])


def hline(y, x1, x2, w=2):
    return alt.Chart(ONE).mark_rule(color=FRAME, strokeWidth=w).encode(
        x=alt.value(x1), x2=alt.value(x2), y=alt.value(y))


def vline(x, y1, y2, w=2):
    return alt.Chart(ONE).mark_rule(color=FRAME, strokeWidth=w).encode(
        y=alt.value(y1), y2=alt.value(y2), x=alt.value(x))


def panel(pts, xt, yt, color, label, w, h, lx, ly, frames, xr=None, yoff=0):
    rows = [{"x": a, "y": b} for a, b in pts]
    xs = dict(domain=[xt[0], xt[-1]], nice=False, zero=False)
    if xr:
        xs["range"] = xr
    dots = alt.Chart(alt.Data(values=rows)).mark_circle(size=102, opacity=1, color=color).encode(
        x=alt.X("x:Q", title=None, scale=alt.Scale(**xs),
                axis=alt.Axis(values=xt, format="d", grid=True, gridColor=GRID, gridWidth=1.6,
                              domainColor=GRID, domainWidth=1.6, ticks=False, labelPadding=12,
                              labelFont="Lato", labelFontSize=14, labelColor="#595959",
                              labelOverlap=False, labelFlush=False)),
        y=alt.Y("y:Q", title=None, scale=alt.Scale(domain=[yt[0], yt[-1]], nice=False, zero=False),
                axis=alt.Axis(values=yt, format=".3~f", grid=True, gridColor=GRID, gridWidth=1.6,
                              domainColor=GRID, domainWidth=1.6, ticks=False, labelPadding=14,
                              labelFont="Lato", labelFontSize=14, labelColor="#595959",
                              labelOverlap=False, offset=yoff)),
    )
    txt = alt.Chart(ONE).mark_text(
        text=label, font="Liberation Serif", fontWeight="bold", fontSize=27,
        color="#46ACC4", align="left", baseline="middle",
    ).encode(x=alt.value(lx), y=alt.value(ly))
    return alt.layer(dots, txt, *frames).properties(width=w, height=h)


p1 = panel(pts_24 + fill_24, x_ticks_24, y_ticks_24, "#4472C4", "24k RPM", 527, 324, 18, 30,
           [hline(-15, -60.5, 544.5), vline(-60.5, -15, 365), vline(544.5, -15, 365), hline(365, -60.5, 544.5)],
           xr=[-1.5, 526.5], yoff=1.5)
p2 = panel(pts_27 + fill_27, x_ticks_27, y_ticks_27, "#4472C4", "27k RPM", 537, 324, 40, 30,
           [hline(-15, -60, 549), hline(365, -60, 549)])
p3 = panel(pts_30 + fill_30 + fill2_30, x_ticks_30, y_ticks_30, "#5B9BD5", "30k RPM", 532, 313, 18, 29,
           [hline(-19, -60.5, 544.5), vline(-60.5, -19, 342), vline(544.5, -19, 342)],
           xr=[1.1, 532.1])
p4 = panel(pts_33 + fill_33, x_ticks_33, y_ticks_33, "#4472C4", "33k RPM", 535, 315, 41, 29,
           [hline(-19, -60, 549)])

left = alt.vconcat(p1, p3, spacing=0)
right = alt.vconcat(p2, p4, spacing=0)
chart = alt.hconcat(left, right, spacing=0).properties(padding=0).configure_view(strokeWidth=0)
chart.save("out.html", embed_options={"renderer": "svg", "actions": False})
